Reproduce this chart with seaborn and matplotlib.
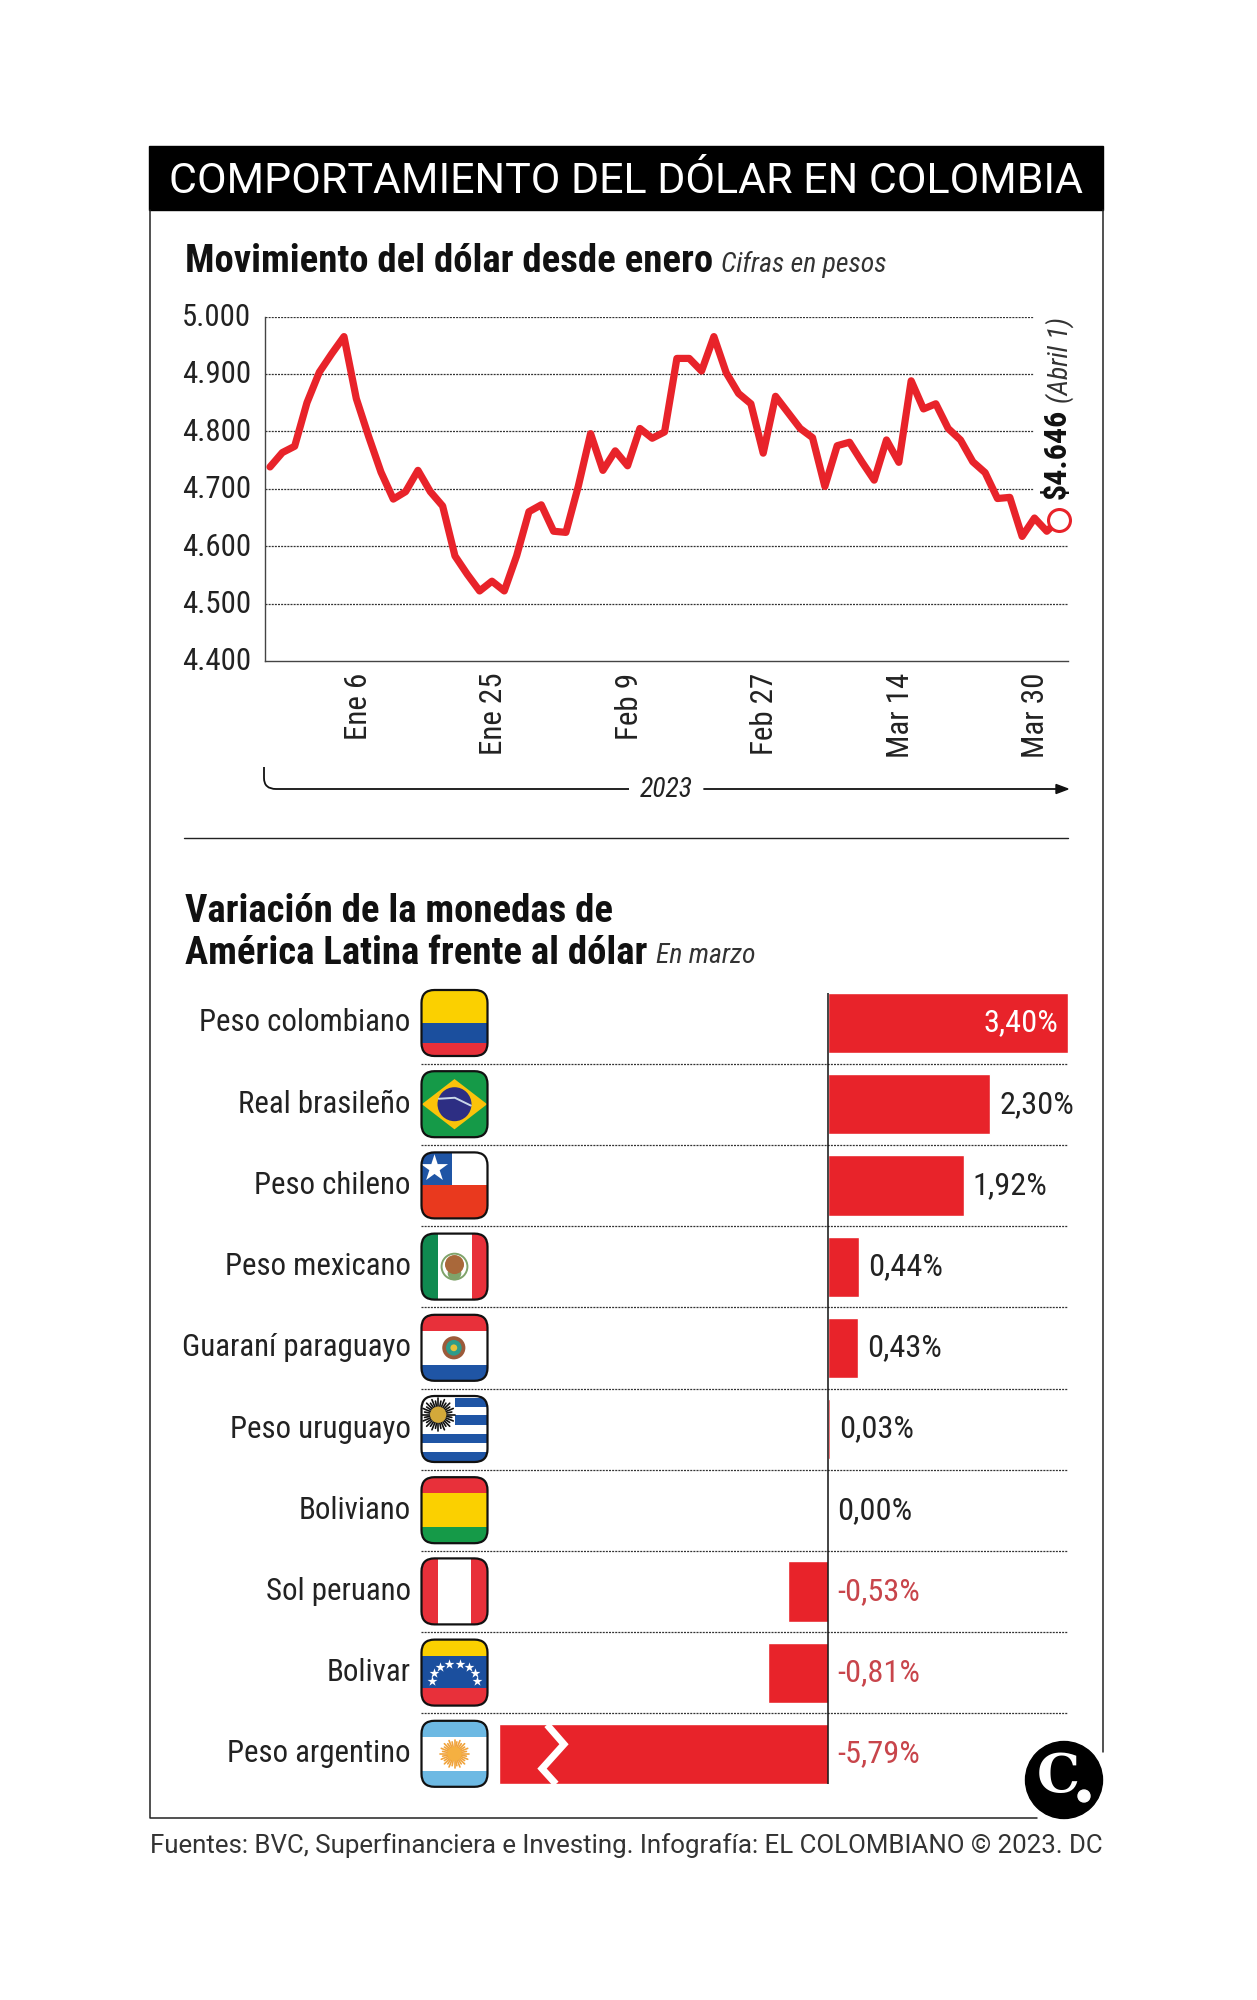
import numpy as np
import pandas as pd
import matplotlib
matplotlib.use("Agg")
import matplotlib.pyplot as plt
from matplotlib import font_manager as fm
from matplotlib.patches import Rectangle, Polygon, Circle, FancyBboxPatch, PathPatch
from matplotlib.path import Path
from matplotlib.transforms import ScaledTranslation
import seaborn as sns

# ---------- data ----------
usd_cop = [4738, 4763, 4774, 4850, 4903, 4935, 4965, 4857, 4791, 4729, 4682, 4695, 4732,
           4695, 4670, 4583, 4551, 4522, 4539, 4522, 4583, 4660, 4672, 4626, 4624, 4704,
           4796, 4732, 4766, 4740, 4805, 4788, 4799, 4927, 4927, 4905, 4965, 4902, 4866,
           4848, 4762, 4861, 4833, 4805, 4789, 4704, 4775, 4781, 4747, 4715, 4785, 4746,
           4888, 4839, 4848, 4805, 4785, 4747, 4728, 4683, 4685, 4617, 4649, 4626, 4646]
date_labels = ["Ene 6", "Ene 25", "Feb 9", "Feb 27", "Mar 14", "Mar 30"]
date_ticks = [7.14, 18.14, 29.14, 40.14, 51.15, 62.1]
y_ticks = [4400, 4500, 4600, 4700, 4800, 4900, 5000]
y_labels = ["4.400", "4.500", "4.600", "4.700", "4.800", "4.900", "5.000"]

currencies = ["Peso colombiano", "Real brasileño", "Peso chileno", "Peso mexicano",
              "Guaraní paraguayo", "Peso uruguayo", "Boliviano", "Sol peruano",
              "Bolivar", "Peso argentino"]
variation = [3.40, 2.30, 1.92, 0.44, 0.43, 0.03, 0.00, -0.53, -0.81, -5.79]
# bar lengths as drawn in the original; the Argentine bar is cut by a break mark
bar_drawn = [3.40, 2.30, 1.92, 0.44, 0.43, 0.03, 0.00, -0.56, -0.85, -4.66]

# ---------- style ----------
W, H = 1257, 2000
RED = "#E8232A"
TXT = "#222222"
sns.set_theme(style="white")
names = {f.name for f in fm.fontManager.ttflist}
NARROW = next((n for n in ["Liberation Sans Narrow", "Roboto Condensed", "Roboto"] if n in names), "DejaVu Sans")
plt.rcParams["font.family"] = [NARROW, "DejaVu Sans"]
fig = plt.figure(figsize=(W / 100, H / 100), dpi=100, facecolor="white")

def box(l, t, r, b):
    return [l / W, 1 - b / H, (r - l) / W, (b - t) / H]

def lift(labels, pts):
    off = ScaledTranslation(0, pts / 72, fig.dpi_scale_trans)
    for lb in labels:
        lb.set_transform(lb.get_transform() + off)

# ---------- line chart ----------
ax1 = fig.add_axes(box(265, 316.5, 1068, 661))
df = pd.DataFrame({"i": np.arange(len(usd_cop)), "v": usd_cop})
x_scale = 12.33
ax1.set_xlim((265 - 270) / x_scale, (1068 - 270) / x_scale)
ax1.set_ylim(4400, 5000)
for v in y_ticks[1:]:
    end = ax1.get_xlim()[1] if v <= 4600 else 61.9
    ax1.hlines(v, ax1.get_xlim()[0], end, color="#333333", lw=0.9, ls=(0, (1.6, 0.9)), zorder=1)
sns.lineplot(data=df, x="i", y="v", ax=ax1, color=RED, linewidth=5.2, zorder=3, errorbar=None)
ax1.scatter([df.i.iloc[-1]], [df.v.iloc[-1]], s=250, facecolor="white", edgecolor=RED, linewidth=2.2, zorder=4, clip_on=False)
ax1.set_xlabel(""); ax1.set_ylabel("")
ax1.set_yticks(y_ticks); ax1.set_yticklabels(y_labels)
ax1.set_xticks(date_ticks); ax1.set_xticklabels(date_labels, rotation=90, va="top", ha="center")
ax1.tick_params(axis="y", length=0, pad=10, labelsize=22.2, labelcolor=TXT)
ax1.tick_params(axis="x", length=0, pad=8.5, labelsize=22.3, labelcolor=TXT)
lift(ax1.get_yticklabels(), 1.5)
for s in ["top", "right"]:
    ax1.spines[s].set_visible(False)
for s in ["left", "bottom"]:
    ax1.spines[s].set_color("#444444"); ax1.spines[s].set_linewidth(1)

# ---------- bars ----------
ax2 = fig.add_axes(box(421, 982.4, 1068, 1794.6))
bdf = pd.DataFrame({"moneda": currencies, "val": bar_drawn})
sns.barplot(data=bdf, x="val", y="moneda", ax=ax2, color=RED, saturation=1, width=0.74, orient="h", order=currencies)
px = 70.6
zero = 828
ax2.set_xlim(-(zero - 421) / px, (1068 - zero) / px)
ax2.set_ylim(9.5, -0.5)
ax2.set_xlabel(""); ax2.set_ylabel("")
ax2.set_xticks([])
ax2.tick_params(axis="y", length=0, pad=7.5, labelsize=22.2, labelcolor=TXT)
lift(ax2.get_yticklabels(), 2.2)
for s in ax2.spines.values():
    s.set_visible(False)
ax2.hlines(np.arange(9) + 0.5, *ax2.get_xlim(), color="#333333", lw=0.9, ls=(0, (1.6, 0.9)), zorder=1)
ax2.vlines(0, -0.37, 9.37, color="#111111", lw=1.1, zorder=5)
for i, (v, d) in enumerate(zip(variation, bar_drawn)):
    lab = f"{v:.2f}%".replace(".", ",")
    if i == 0:
        ax2.annotate(lab, (d, i), xytext=(-7, 0), textcoords="offset points", ha="right", va="center", color="white", fontsize=23.3)
    elif v >= 0:
        ax2.annotate(lab, (d, i), xytext=(6.6, 0), textcoords="offset points", ha="left", va="center", color=TXT, fontsize=23.3)
    else:
        ax2.annotate(lab, (0, i), xytext=(6.6, 0), textcoords="offset points", ha="left", va="center", color="#C8454B", fontsize=23.3)
# break mark in the Argentine bar
ax2.plot([(547 - zero) / px, (564 - zero) / px, (542 - zero) / px, (556 - zero) / px],
         [8.64, 8.88, 9.18, 9.37], color="white", linewidth=5, solid_joinstyle="miter", zorder=4, solid_capstyle="butt")

# ---------- page overlay (pixel coordinates) ----------
ov = fig.add_axes([0, 0, 1, 1], zorder=10)
ov.set_xlim(0, W); ov.set_ylim(H, 0); ov.axis("off"); ov.patch.set_alpha(0)

ov.add_patch(Rectangle((149, 146), 954, 64, color="black", zorder=2))
ov.plot([149.5, 149.5, 1037], [210, 1818, 1818], color="#222222", lw=1.1)
ov.plot([1103, 1103], [210, 1752], color="#222222", lw=1.1)
ov.text(169, 181.5, "COMPORTAMIENTO DEL DÓLAR EN COLOMBIA", color="white", family=["Roboto"], fontsize=31, va="center", ha="left", zorder=3)

ov.text(185, 261.5, "Movimiento del dólar desde enero", weight="bold", fontsize=27.9, color="#111111", va="center")
ov.text(721, 264, "Cifras en pesos", style="italic", fontsize=20, color="#333333", va="center")
ov.text(185, 911, "Variación de la monedas de", weight="bold", fontsize=27.9, color="#111111", va="center")
ov.text(185, 953.5, "América Latina frente al dólar", weight="bold", fontsize=27.9, color="#111111", va="center")
ov.text(656, 956, "En marzo", style="italic", fontsize=20, color="#333333", va="center")
ov.plot([184, 1068], [838, 838], color="#222222", lw=1)

# annotation of the last value
ov.text(1057, 499, "$4.646", rotation=90, weight="bold", fontsize=23, color="#111111", ha="center", va="bottom")
ov.text(1060, 403, "(Abril 1)", rotation=90, style="italic", fontsize=20, color="#333333", ha="center", va="bottom")

# year bracket
ov.add_patch(PathPatch(Path([(264, 767), (264, 778), (264, 789), (276, 789), (629, 789)],
                            [Path.MOVETO, Path.LINETO, Path.CURVE3, Path.CURVE3, Path.LINETO]),
                       fill=False, lw=1.3, ec="#111111"))
ov.plot([704, 1058], [789, 789], color="#111111", lw=1.3)
ov.add_patch(Polygon([[1056, 784.5], [1068, 789], [1056, 793.5]], color="#111111"))
ov.text(666, 790, "2023", style="italic", fontsize=20, color="#222222", ha="center", va="center")

ov.text(150, 1846, "Fuentes: BVC, Superfinanciera e Investing. Infografía: EL COLOMBIANO © 2023. DC",
        family=["Roboto"], fontsize=18.6, color="#333333", va="center", ha="left")

# logo
ov.add_patch(Circle((1064, 1780), 38.5, color="black", zorder=3))
ov.text(1058, 1778, "C", family=["DejaVu Serif"], weight="bold", color="white", fontsize=39, ha="center", va="center", zorder=4)
ov.add_patch(Circle((1084, 1796), 6, color="white", zorder=4))

# ---------- flags ----------
FX, FS = 420.5, 68
def flag_top(i):
    return 989 + 81.2 * i

def make_flag(i):
    y0 = flag_top(i)
    clip = FancyBboxPatch((FX + 1, y0 + 1), FS - 2, FS - 2, boxstyle="round,pad=0,rounding_size=13",
                          transform=ov.transData, fc="white", ec="none", zorder=5)
    ov.add_patch(clip)
    def p(u, v):
        return FX + u * FS, y0 + v * FS
    def rect(u0, v0, u1, v1, c):
        x, y = p(u0, v0)
        r = Rectangle((x, y), (u1 - u0) * FS, (v1 - v0) * FS, fc=c, ec="none", zorder=6)
        ov.add_patch(r); r.set_clip_path(clip)
    def circ(u, v, rad, c, ec="none", z=7):
        x, y = p(u, v)
        c_ = Circle((x, y), rad * FS, fc=c, ec=ec, lw=0.8, zorder=z)
        ov.add_patch(c_)
    def sun(u, v, rad, ray, core):
        x, y = p(u, v)
        ang = np.linspace(0, 2 * np.pi, 32, endpoint=False)
        for k, a in enumerate(ang):
            r = rad * FS * (1.0 if k % 2 == 0 else 0.85)
            ov.plot([x, x + r * np.cos(a)], [y, y + r * np.sin(a)], color=ray, lw=1.2, zorder=7)
        ov.add_patch(Circle((x, y), rad * FS * 0.5, fc=core, ec="none", zorder=8))
    def star(u, v, s):
        x, y = p(u, v)
        ov.scatter([x], [y], marker="*", s=s, color="white", linewidth=0, zorder=8)
    if i == 0:
        rect(0, 0, 1, .5, "#FBD000"); rect(0, .5, 1, .8, "#1B4F9E"); rect(0, .8, 1, 1, "#E8303A")
    elif i == 1:
        rect(0, 0, 1, 1, "#159A48")
        ov.add_patch(Polygon([p(.02, .5), p(.5, .13), p(.98, .5), p(.5, .87)], fc="#FBC30A", ec="none", zorder=7))
        circ(.5, .5, .25, "#2D2E83", z=8)
        x0, y0_ = p(.27, .42); x1, y1_ = p(.74, .52)
        ov.plot([x0, (x0 + x1) / 2, x1], [y0_, y0_ - 1, y1_], color="#C9D6E8", lw=1.4, zorder=9)
    elif i == 2:
        rect(0, .5, 1, 1, "#E9391E"); rect(0, 0, .47, .5, "#1F55A5")
        star(.2, .24, 420)
    elif i == 3:
        rect(0, 0, .25, 1, "#0F8A50"); rect(.75, 0, 1, 1, "#E8303A")
        circ(.5, .47, .14, "#A9683A"); circ(.5, .6, .1, "#7FA36A", z=6)
        x, y = p(.5, .5)
        ov.add_patch(Circle((x, y), .19 * FS, fc="none", ec="#7FA36A", lw=1.4, zorder=7))
    elif i == 4:
        rect(0, 0, 1, .25, "#E8303A"); rect(0, .75, 1, 1, "#1F55A5")
        circ(.49, .5, .17, "#9C5A3A"); circ(.49, .5, .115, "#2E9C8A", z=8); circ(.49, .5, .05, "#E6C23A", z=9)
    elif i == 5:
        for a, b, c in [(.05, .17, .5), (.30, .44, .5), (.576, .707, 0), (.84, .98, 0)]:
            rect(c, a, 1, b, "#1F55A5")
        sun(.26, .29, .24, "#111111", "#D3A93A")
    elif i == 6:
        rect(0, 0, 1, .25, "#E8303A"); rect(0, .25, 1, .75, "#FBD000"); rect(0, .75, 1, 1, "#159A48")
    elif i == 7:
        rect(0, 0, .26, 1, "#E8303A"); rect(.74, 0, 1, 1, "#E8303A")
    elif i == 8:
        rect(0, 0, 1, .26, "#FBD000"); rect(0, .26, 1, .73, "#1B4F9E"); rect(0, .73, 1, 1, "#E8303A")
        for a in np.linspace(np.pi, 0, 8):
            star(.5 + .335 * np.cos(a), .63 - .27 * np.sin(a), 55)
    elif i == 9:
        rect(0, 0, 1, .25, "#6DB9E3"); rect(0, .75, 1, 1, "#6DB9E3")
        sun(.5, .5, .21, "#F0A33C", "#F5B041")
    ov.add_patch(FancyBboxPatch((FX + 1, y0 + 1), FS - 2, FS - 2, boxstyle="round,pad=0,rounding_size=13",
                                fc="none", ec="#111111", lw=1.6, zorder=10))

for n in range(len(currencies)):
    make_flag(n)

fig.savefig("out.png", dpi=100, facecolor="white")
